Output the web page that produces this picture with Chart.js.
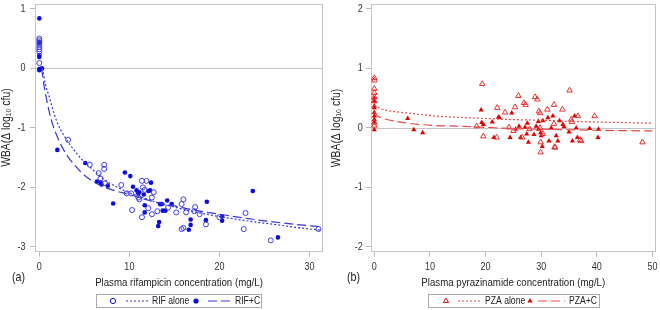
<!DOCTYPE html>
<html>
<head>
<meta charset="utf-8">
<script src="https://cdn.jsdelivr.net/npm/chart.js@4.4.1/dist/chart.umd.min.js"></script>
<style>
  html, body { margin: 0; padding: 0; background: #fff; }
  #wrap { display: flex; width: 660px; height: 310px; }
  canvas { display: block; }
</style>
</head>
<body>
<div id="wrap">
  <canvas id="rif" width="330" height="310"></canvas>
  <canvas id="pza" width="330" height="310"></canvas>
</div>
<script>
// ---- panel (a): rifampicin ----
const rifAloneC = [0, 0, 0, 0, 0, 0, 0, 0, 3.2, 5.6, 7.2, 7.2, 6.6, 6.8, 7.3, 9.1, 9.7, 10.2, 10.3, 11.4, 11.9, 11.5, 11.7, 11.0, 11.1, 12.1, 11.4, 12.5, 12.7, 12.5, 13.1, 14.3, 15.2, 16.0, 15.8, 16.3, 15.8, 16.0, 17.2, 17.3, 17.8, 18.5, 20.0, 22.9, 22.7, 25.7, 31.0];
const rifAloneV = [0.5, 0.47, 0.44, 0.4, 0.36, 0.32, 0.28, 0.09, -1.2, -1.62, -1.62, -1.69, -1.76, -1.85, -1.93, -1.96, -2.1, -2.1, -2.38, -1.89, -1.89, -2.0, -2.04, -2.17, -2.2, -2.35, -2.5, -2.45, -2.08, -2.17, -2.4, -2.34, -2.42, -2.2, -2.28, -2.42, -2.7, -2.68, -2.4, -2.33, -2.45, -2.62, -2.5, -2.43, -2.7, -2.89, -2.7];

const rifCC = [0, 0, 0, 0, 0, 0, 0, 0.3, 2.0, 5.1, 6.4, 6.9, 6.8, 7.6, 8.2, 9.5, 10.1, 10.4, 10.8, 11.0, 11.1, 11.6, 11.7, 11.7, 12.1, 12.3, 12.4, 13.4, 13.6, 13.7, 14.0, 14.2, 14.7, 13.3, 13.2, 16.8, 16.6, 16.8, 18.6, 18.5, 20.3, 20.3, 23.7, 26.5];
const rifCV = [0.84, 0.44, 0.42, 0.22, 0.19, -0.01, -0.03, 0.0, -1.37, -1.59, -1.9, -1.95, -1.92, -1.97, -2.27, -1.75, -1.81, -1.99, -2.05, -2.1, -2.08, -2.12, -2.3, -2.42, -2.06, -2.05, -1.92, -2.28, -2.28, -2.39, -2.39, -2.22, -2.28, -2.58, -2.65, -2.63, -2.71, -2.54, -2.24, -2.55, -2.49, -2.56, -2.06, -2.84];

const rifAloneFitC = [0.35, 0.7, 1.15, 1.6, 2.1, 2.7, 3.4, 4.1, 4.9, 5.7, 6.5, 7.5, 8.7, 10, 11.5, 13, 15, 17.5, 20, 23, 26, 29, 31.3];
const rifAloneFitV = [0, -0.28, -0.5, -0.74, -0.95, -1.12, -1.28, -1.42, -1.56, -1.67, -1.78, -1.9, -2.0, -2.09, -2.17, -2.25, -2.33, -2.42, -2.49, -2.56, -2.62, -2.68, -2.72];
const rifCFitC = [0.25, 0.5, 0.78, 1.1, 1.5, 2.0, 2.6, 3.2, 3.9, 4.6, 5.4, 6.3, 7.3, 8.5, 10, 11.5, 13, 15, 17.5, 20, 23, 26, 29, 31.3];
const rifCFitV = [0, -0.27, -0.5, -0.73, -0.95, -1.15, -1.34, -1.49, -1.62, -1.74, -1.84, -1.93, -2.0, -2.06, -2.12, -2.19, -2.25, -2.31, -2.39, -2.45, -2.52, -2.58, -2.63, -2.66];

const rifXTicks = [0, 10, 20, 30];
const rifYTicks = [-3, -2, -1, 0, 1];

// ---- panel (b): pyrazinamide ----
const pzaAloneC = [0, 0, 0, 0, 0, 0, 0, 0, 18.4, 19.4, 19.6, 22.1, 22.0, 23.5, 24.2, 25.0, 25.3, 25.9, 26.9, 27.2, 27.9, 26.6, 28.9, 29.3, 29.6, 29.8, 29.8, 29.9, 29.9, 30.3, 31.1, 32.3, 32.5, 32.4, 32.3, 33.8, 35.1, 35.4, 35.5, 36.6, 37.0, 37.2, 39.6, 48.2];
const pzaAloneV = [0.84, 0.8, 0.66, 0.59, 0.52, 0.45, 0.09, 0.04, 0.03, 0.74, -0.14, 0.34, -0.16, 0.26, 0.01, -0.05, 0.35, 0.54, 0.42, 0.39, -0.02, -0.16, 0.52, 0.48, 0.28, 0.25, 0.0, -0.41, -0.24, -0.1, 0.31, 0.39, -0.33, -0.32, 0.07, 0.31, 0.63, 0.14, 0.1, 0.2, -0.2, -0.22, 0.2, -0.24];

const pzaCC = [0, 0, 0, 0, 0, 0, 0, 0, 0, 6.0, 7.1, 8.7, 19.2, 19.3, 19.6, 21.2, 21.5, 22.3, 22.5, 24.7, 24.4, 25.4, 26.0, 26.3, 27.1, 27.5, 27.4, 27.7, 28.7, 29.1, 29.5, 29.5, 29.9, 30.2, 30.0, 30.3, 31.2, 31.4, 32.1, 31.8, 32.7, 33.0, 33.3, 33.9, 34.1, 35.0, 35.6, 36.0, 36.5, 36.3, 38.7, 40.2, 40.3];
const pzaCV = [0.5, 0.45, 0.37, 0.34, 0.26, 0.2, 0.14, 0.1, -0.03, 0.16, -0.03, -0.08, 0.3, 0.09, 0.06, 0.1, -0.16, 0.18, 0.17, 0.25, -0.16, -0.02, 0.03, -0.16, 0.01, 0.08, -0.1, -0.24, -0.11, 0.03, 0.11, -0.02, -0.08, -0.31, -0.13, 0.12, 0.17, -0.22, 0.2, 0.0, -0.13, -0.22, 0.12, 0.06, 0.02, -0.07, -0.22, 0.2, -0.16, 0.0, -0.01, -0.16, -0.02];

const pzaAloneFitC = [0, 1, 2, 4, 6, 8, 11, 15, 20, 25, 30, 35, 40, 45, 50];
const pzaAloneFitV = [0.38, 0.33, 0.3, 0.27, 0.25, 0.23, 0.2, 0.18, 0.16, 0.14, 0.13, 0.11, 0.1, 0.09, 0.08];
const pzaCFitC = [0, 0.5, 1, 2, 4, 6, 8, 11, 15, 20, 25, 30, 35, 40, 45, 50];
const pzaCFitV = [0.27, 0.21, 0.18, 0.15, 0.11, 0.08, 0.06, 0.04, 0.03, 0.01, -0.01, -0.02, -0.03, -0.04, -0.045, -0.05];

const pzaXTicks = [0, 10, 20, 30, 40, 50];
const pzaYTicks = [-2, -1, 0, 1, 2];

const yTitle = "WBA(\u0394 log\u2081\u2080 cfu)";

// the source figure uses a narrow sans face; squeeze Liberation Sans to match
const FONT = "'Liberation Sans', Arial, sans-serif";
const SQUEEZE = 0.82;
const toPts = (xs, ys) => xs.map((x, i) => ({ x: x, y: ys[i] }));

function narrowText(ctx, text, x, y, size, align, color, rotate) {
  ctx.save();
  ctx.translate(x, y);
  if (rotate) ctx.rotate(-Math.PI / 2);
  ctx.scale(SQUEEZE, 1);
  ctx.font = size + "px " + FONT;
  ctx.textAlign = align;
  ctx.textBaseline = "middle";
  ctx.fillStyle = color;
  ctx.fillText(text, 0, 0);
  ctx.restore();
}

function drawMarker(ctx, style, x, y, r, color, filled) {
  ctx.beginPath();
  if (style === "circle") {
    ctx.arc(x, y, r, 0, Math.PI * 2);
  } else {
    ctx.moveTo(x, y - r * 1.15);
    ctx.lineTo(x + r, y + r * 0.6);
    ctx.lineTo(x - r, y + r * 0.6);
    ctx.closePath();
  }
  if (filled) { ctx.fillStyle = color; ctx.fill(); }
  else { ctx.strokeStyle = color; ctx.lineWidth = 1; ctx.stroke(); }
}

// frame, zero line, tick labels, titles, panel tag and boxed legend
const framePlugin = {
  id: "frame",
  beforeDatasetsDraw(chart) {
    const { ctx, chartArea: a, scales } = chart;
    ctx.save();
    ctx.strokeStyle = "#c4c4c4";
    ctx.lineWidth = 1;
    const y0 = Math.round(scales.y.getPixelForValue(0)) + 0.5;
    ctx.beginPath();
    ctx.moveTo(a.left, y0);
    ctx.lineTo(a.right, y0);
    ctx.stroke();
    ctx.strokeRect(Math.round(a.left) + 0.5, Math.round(a.top) + 0.5, Math.round(a.width) - 1, Math.round(a.height) - 1);
    ctx.restore();
  },
  afterDraw(chart, args, o) {
    const { ctx, chartArea: a, scales } = chart;
    // tick labels
    scales.x.ticks.forEach(t => {
      narrowText(ctx, String(t.value), scales.x.getPixelForValue(t.value), 266.5, 11, "center", "#333");
    });
    scales.y.ticks.forEach(t => {
      narrowText(ctx, String(t.value), a.left - o.yLabelGap, scales.y.getPixelForValue(t.value), 11, "right", "#333");
    });
    // axis titles
    narrowText(ctx, o.xTitle, (a.left + a.right) / 2, 283, 11.8, "center", "#222");
    narrowText(ctx, yTitle, 6.5, (a.top + a.bottom) / 2, 12.6, "center", "#222", true);
    narrowText(ctx, o.tag, o.tagX, 277, 13, "left", "#222");

    // legend box
    ctx.save();
    const [bx, by, bw, bh] = o.box;
    ctx.strokeStyle = "#aaa";
    ctx.lineWidth = 1;
    ctx.strokeRect(bx + 0.5, by + 0.5, bw, bh);
    const cy = by + bh / 2 + 0.5;
    o.items.forEach(it => {
      if (it.kind === "marker") {
        drawMarker(ctx, it.style, it.x, cy, 2.6, o.color, it.filled);
      } else if (it.kind === "line") {
        ctx.strokeStyle = o.lineColor;
        ctx.setLineDash(it.dash);
        ctx.beginPath();
        ctx.moveTo(it.x1, cy);
        ctx.lineTo(it.x2, cy);
        ctx.stroke();
        ctx.setLineDash([]);
      } else {
        narrowText(ctx, it.text, it.x, cy, 10.5, "left", "#222");
      }
    });
    ctx.restore();
  }
};

function makeChart(id, p) {
  return new Chart(document.getElementById(id), {
    type: "scatter",
    data: {
      datasets: [
        {
          data: toPts(p.fitAC, p.fitAV), showLine: true, pointRadius: 0,
          borderColor: p.lineColor, borderWidth: 1.2, borderDash: [2, 2],
          cubicInterpolationMode: "monotone", fill: false
        },
        {
          data: toPts(p.fitCC, p.fitCV), showLine: true, pointRadius: 0,
          borderColor: p.lineColor, borderWidth: 1.2, borderDash: [9, 4],
          cubicInterpolationMode: "monotone", fill: false
        },
        {
          data: toPts(p.aloneC, p.aloneV), pointStyle: p.style,
          pointRadius: p.openR, pointHoverRadius: p.openR,
          backgroundColor: "rgba(0,0,0,0)", borderColor: p.openColor, borderWidth: 1
        },
        {
          data: toPts(p.comboC, p.comboV), pointStyle: p.style,
          pointRadius: p.fillR, pointHoverRadius: p.fillR,
          backgroundColor: p.color, borderColor: p.color, borderWidth: 0
        }
      ]
    },
    options: {
      responsive: false,
      animation: false,
      events: [],
      layout: { padding: { left: 0, top: 2, right: p.padRight, bottom: 20 } },
      plugins: {
        legend: { display: false },
        tooltip: { enabled: false },
        frame: p.frame
      },
      scales: {
        x: {
          type: "linear",
          min: p.xMin, max: p.xMax,
          afterBuildTicks: s => { s.ticks = p.xTicks.map(v => ({ value: v })); },
          afterFit: s => { s.height = 38.3; s.paddingLeft = 0; s.paddingRight = 0; },
          grid: { display: true, drawOnChartArea: false, drawTicks: true, tickLength: 5, color: "#bbb" },
          border: { display: false },
          ticks: { display: false },
          title: { display: false }
        },
        y: {
          type: "linear",
          min: p.yMin, max: p.yMax,
          afterBuildTicks: s => { s.ticks = p.yTicks.map(v => ({ value: v })); },
          afterFit: s => { s.width = p.yWidth; s.paddingTop = 0; s.paddingBottom = 0; },
          grid: { display: true, drawOnChartArea: false, drawTicks: true, tickLength: 5, color: "#bbb" },
          border: { display: false },
          ticks: { display: false },
          title: { display: false }
        }
      }
    },
    plugins: [framePlugin]
  });
}

makeChart("rif", {
  aloneC: rifAloneC, aloneV: rifAloneV, comboC: rifCC, comboV: rifCV,
  fitAC: rifAloneFitC, fitAV: rifAloneFitV, fitCC: rifCFitC, fitCV: rifCFitV,
  xTicks: rifXTicks, yTicks: rifYTicks,
  xMin: -0.48, xMax: 31.5, yMin: -3.08, yMax: 1.09,
  yWidth: 35, padRight: 7,
  style: "circle", openR: 2.5, fillR: 2.3,
  color: "#0b0be0", openColor: "#3c3ce6", lineColor: "#3636d6",
  frame: {
    xTitle: "Plasma rifampicin concentration (mg/L)",
    yLabelGap: 9.5,
    tag: "(a)", tagX: 12, color: "#0b0be0", lineColor: "#3636d6",
    box: [96, 294, 165, 13],
    items: [
      { kind: "marker", style: "circle", x: 113, filled: false },
      { kind: "line", x1: 126, x2: 148, dash: [2, 2] },
      { kind: "text", x: 152, text: "RIF alone" },
      { kind: "marker", style: "circle", x: 196, filled: true },
      { kind: "line", x1: 208, x2: 232, dash: [9, 4] },
      { kind: "text", x: 235, text: "RIF+C" }
    ]
  }
});

makeChart("pza", {
  aloneC: pzaAloneC, aloneV: pzaAloneV, comboC: pzaCC, comboV: pzaCV,
  fitAC: pzaAloneFitC, fitAV: pzaAloneFitV, fitCC: pzaCFitC, fitCV: pzaCFitV,
  xTicks: pzaXTicks, yTicks: pzaYTicks,
  xMin: -0.65, xMax: 50.6, yMin: -2.08, yMax: 2.08,
  yWidth: 40.7, padRight: 4,
  style: "triangle", openR: 3.2, fillR: 3,
  color: "#e00000", openColor: "#ec3030", lineColor: "#e84848",
  frame: {
    xTitle: "Plasma pyrazinamide concentration (mg/L)",
    yLabelGap: 8,
    tag: "(b)", tagX: 17, color: "#e00000", lineColor: "#e84848",
    box: [98, 294, 171, 13],
    items: [
      { kind: "marker", style: "triangle", x: 116, filled: false },
      { kind: "line", x1: 128, x2: 152, dash: [2, 2] },
      { kind: "text", x: 155, text: "PZA alone" },
      { kind: "marker", style: "triangle", x: 200, filled: true },
      { kind: "line", x1: 208, x2: 235, dash: [9, 4] },
      { kind: "text", x: 239, text: "PZA+C" }
    ]
  }
});
</script>
</body>
</html>
